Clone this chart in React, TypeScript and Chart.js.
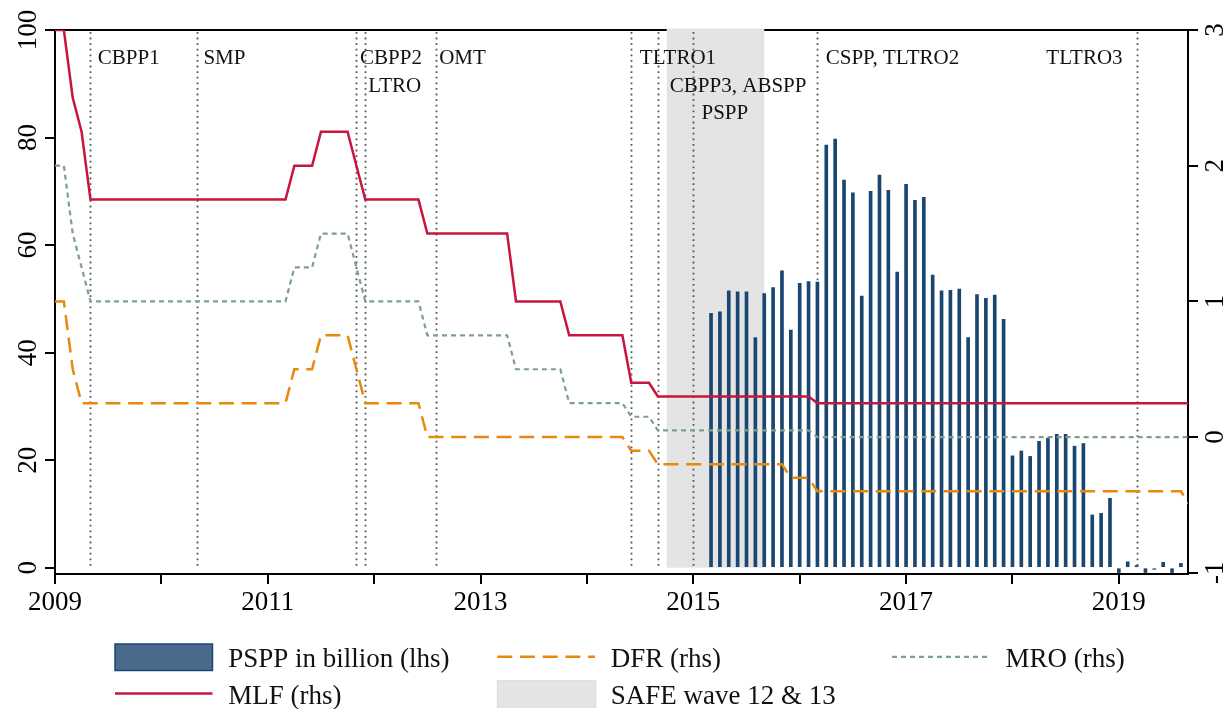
import React, { useEffect, useRef } from 'react';
import { Chart, registerables } from 'chart.js';

Chart.register(...registerables);

// ---------------- data ----------------
const START_YEAR = 2009; // monthly series start: January 2009

// Marginal lending facility rate (rhs), monthly from Jan 2009
const mlf = [
  3, 3, 2.5, 2.25, 1.75, 1.75, 1.75, 1.75, 1.75, 1.75, 1.75, 1.75,
  1.75, 1.75, 1.75, 1.75, 1.75, 1.75, 1.75, 1.75, 1.75, 1.75, 1.75, 1.75,
  1.75, 1.75, 1.75, 2, 2, 2, 2.25, 2.25, 2.25, 2.25, 2, 1.75,
  1.75, 1.75, 1.75, 1.75, 1.75, 1.75, 1.5, 1.5, 1.5, 1.5, 1.5, 1.5,
  1.5, 1.5, 1.5, 1.5, 1, 1, 1, 1, 1, 1, 0.75, 0.75,
  0.75, 0.75, 0.75, 0.75, 0.75, 0.4, 0.4, 0.4, 0.3, 0.3, 0.3, 0.3,
  0.3, 0.3, 0.3, 0.3, 0.3, 0.3, 0.3, 0.3, 0.3, 0.3, 0.3, 0.3,
  0.3, 0.3, 0.25, 0.25, 0.25, 0.25, 0.25, 0.25, 0.25, 0.25, 0.25, 0.25,
  0.25, 0.25, 0.25, 0.25, 0.25, 0.25, 0.25, 0.25, 0.25, 0.25, 0.25, 0.25,
  0.25, 0.25, 0.25, 0.25, 0.25, 0.25, 0.25, 0.25, 0.25, 0.25, 0.25, 0.25,
  0.25, 0.25, 0.25, 0.25, 0.25, 0.25, 0.25, 0.25, 0.25,
];

// Main refinancing operations rate (rhs)
const mro = [
  2, 2, 1.5, 1.25, 1, 1, 1, 1, 1, 1, 1, 1,
  1, 1, 1, 1, 1, 1, 1, 1, 1, 1, 1, 1,
  1, 1, 1, 1.25, 1.25, 1.25, 1.5, 1.5, 1.5, 1.5, 1.25, 1,
  1, 1, 1, 1, 1, 1, 0.75, 0.75, 0.75, 0.75, 0.75, 0.75,
  0.75, 0.75, 0.75, 0.75, 0.5, 0.5, 0.5, 0.5, 0.5, 0.5, 0.25, 0.25,
  0.25, 0.25, 0.25, 0.25, 0.25, 0.15, 0.15, 0.15, 0.05, 0.05, 0.05, 0.05,
  0.05, 0.05, 0.05, 0.05, 0.05, 0.05, 0.05, 0.05, 0.05, 0.05, 0.05, 0.05,
  0.05, 0.05, 0, 0, 0, 0, 0, 0, 0, 0, 0, 0,
  0, 0, 0, 0, 0, 0, 0, 0, 0, 0, 0, 0,
  0, 0, 0, 0, 0, 0, 0, 0, 0, 0, 0, 0,
  0, 0, 0, 0, 0, 0, 0, 0, 0,
];

// Deposit facility rate (rhs)
const dfr = [
  1, 1, 0.5, 0.25, 0.25, 0.25, 0.25, 0.25, 0.25, 0.25, 0.25, 0.25,
  0.25, 0.25, 0.25, 0.25, 0.25, 0.25, 0.25, 0.25, 0.25, 0.25, 0.25, 0.25,
  0.25, 0.25, 0.25, 0.5, 0.5, 0.5, 0.75, 0.75, 0.75, 0.75, 0.5, 0.25,
  0.25, 0.25, 0.25, 0.25, 0.25, 0.25, 0, 0, 0, 0, 0, 0,
  0, 0, 0, 0, 0, 0, 0, 0, 0, 0, 0, 0,
  0, 0, 0, 0, 0, -0.1, -0.1, -0.1, -0.2, -0.2, -0.2, -0.2,
  -0.2, -0.2, -0.2, -0.2, -0.2, -0.2, -0.2, -0.2, -0.2, -0.2, -0.2, -0.3,
  -0.3, -0.3, -0.4, -0.4, -0.4, -0.4, -0.4, -0.4, -0.4, -0.4, -0.4, -0.4,
  -0.4, -0.4, -0.4, -0.4, -0.4, -0.4, -0.4, -0.4, -0.4, -0.4, -0.4, -0.4,
  -0.4, -0.4, -0.4, -0.4, -0.4, -0.4, -0.4, -0.4, -0.4, -0.4, -0.4, -0.4,
  -0.4, -0.4, -0.4, -0.4, -0.4, -0.4, -0.4, -0.4, -0.5,
];

// PSPP net purchases in billion (lhs), monthly from March 2015
const PSPP_START = 2015 + 2 / 12;
const pspp = [
  47.3, 47.6, 51.5, 51.3, 51.3, 42.8, 51.0, 52.1, 55.2, 44.2,
  52.9, 53.2, 53.1, 78.6, 79.7, 72.1, 69.7, 50.5, 70.0, 73.0, 70.2, 55.0,
  71.3, 68.3, 68.9, 54.4, 51.5, 51.6, 51.8, 42.8, 50.8, 50.1, 50.7, 46.2,
  20.8, 21.7, 20.7, 23.5, 24.1, 24.8, 24.8, 22.6, 23.1, 9.8, 10.1, 12.9,
  -0.9, 1.1, 0.4, -0.9, -0.3, 1.0, -0.9, 0.8, 0.3,
];

const xTicks = [2009, 2010, 2011, 2012, 2013, 2014, 2015, 2016, 2017, 2018, 2019];
const xTickLabels = ['2009', '', '2011', '', '2013', '', '2015', '', '2017', '', '2019'];
const yLeftTicks = [0, 20, 40, 60, 80, 100];
const yRightTicks = [-1, 0, 1, 2, 3];

// SAFE survey waves 12 & 13: Oct 2014 – Sep 2015
const safeWave = [2014.75, 2015.6667];

// Policy event dates (vertical dotted lines)
const eventDates = [2009.3333, 2010.3333, 2011.8333, 2011.9167, 2012.5833, 2014.4167, 2014.6667, 2015.0, 2016.1667, 2019.1667];

// Event labels: text, date of the line it belongs to, text row
const eventText = ['CBPP1', 'SMP', 'CBPP2', 'LTRO', 'OMT', 'TLTRO1', 'CBPP3, ABSPP', 'PSPP', 'CSPP, TLTRO2', 'TLTRO3'];
const eventTextDate = [2009.3333, 2010.3333, 2011.8333, 2011.9167, 2012.5833, 2014.4167, 2014.6667, 2015.0, 2016.1667, 2019.1667];
const eventTextRow = [0, 0, 0, 1, 0, 0, 1, 2, 0, 0];

// ---------------- styles ----------------
const FONT = '"Liberation Serif", "Times New Roman", serif';
const C_BAR = '#1a476f';
const C_BAR_LEGEND = '#4a6b8c';
const C_MLF = '#c8153f';
const C_DFR = '#e8890c';
const C_MRO = '#7f9e92';
const C_SHADE = '#e4e4e4';
const DASH_DFR = [15, 7.7];
const DASH_MRO = [5, 4];
const labelOffsets = [7.4, 6.6, 3.6, 3.0, 3.0, 8.6, 12, 8.2, 8.3, -14];
const labelRowBaseline = [34, 61.5, 88.5];

const monthly = (arr: number[], start: number) => arr.map((v, i) => ({ x: start + i / 12, y: v }));

const annotationsPlugin = {
  id: 'annotations',
  beforeDatasetsDraw(chart: any) {
    const { ctx, chartArea, scales } = chart;
    const x = scales.x;
    const yl = scales.yLeft;
    ctx.save();
    // top frame line
    ctx.strokeStyle = '#000';
    ctx.lineWidth = 2;
    ctx.beginPath();
    ctx.moveTo(chartArea.left, chartArea.top);
    ctx.lineTo(chartArea.right, chartArea.top);
    ctx.stroke();

    // SAFE shading
    const sx0 = x.getPixelForValue(safeWave[0]);
    const sx1 = x.getPixelForValue(safeWave[1]);
    const sTop = yl.getPixelForValue(100) - 1.5;
    const sBot = yl.getPixelForValue(0);
    ctx.fillStyle = C_SHADE;
    ctx.fillRect(sx0, sTop, sx1 - sx0, sBot - sTop);

    // event lines
    ctx.strokeStyle = '#555';
    ctx.lineWidth = 1.8;
    ctx.setLineDash([1.8, 3.8]);
    eventDates.forEach((d) => {
      const px = Math.round(x.getPixelForValue(d)) + 0.5;
      ctx.beginPath();
      ctx.moveTo(px, yl.getPixelForValue(100) + 2);
      ctx.lineTo(px, yl.getPixelForValue(0));
      ctx.stroke();
    });
    ctx.setLineDash([]);

    // event labels
    ctx.fillStyle = '#111';
    ctx.font = `21px ${FONT}`;
    ctx.textBaseline = 'alphabetic';
    eventText.forEach((t, i) => {
      const off = labelOffsets[i];
      const px = x.getPixelForValue(eventTextDate[i]) + off;
      ctx.textAlign = off < 0 ? 'right' : 'left';
      ctx.fillText(t, px, chartArea.top + labelRowBaseline[eventTextRow[i]]);
    });
    ctx.restore();
  },
  afterDraw(chart: any) {
    const { ctx, scales } = chart;
    const yl = scales.yLeft;
    const yr = scales.yRight;
    ctx.save();
    ctx.fillStyle = '#000';
    ctx.font = `27px ${FONT}`;
    ctx.textAlign = 'center';
    ctx.textBaseline = 'alphabetic';
    yLeftTicks.forEach((v) => {
      ctx.save();
      ctx.translate(36, yl.getPixelForValue(v));
      ctx.rotate(-Math.PI / 2);
      ctx.fillText(String(v), 0, 0);
      ctx.restore();
    });
    yRightTicks.forEach((v) => {
      ctx.save();
      ctx.translate(1223, yr.getPixelForValue(v));
      ctx.rotate(-Math.PI / 2);
      ctx.fillText(String(v), 0, 0);
      ctx.restore();
    });

    // legend
    const ds = chart.data.datasets;
    ctx.textAlign = 'left';
    ctx.fillStyle = '#111';
    ctx.font = `27px ${FONT}`;
    const row1 = 656.8;
    const row2 = 693.5;
    // PSPP box
    ctx.fillStyle = C_BAR_LEGEND;
    ctx.fillRect(115, 644, 97.5, 26.5);
    ctx.strokeStyle = C_BAR;
    ctx.lineWidth = 1.5;
    ctx.strokeRect(115, 644, 97.5, 26.5);
    // MLF line
    ctx.strokeStyle = C_MLF;
    ctx.lineWidth = 2.5;
    ctx.beginPath();
    ctx.moveTo(115, row2);
    ctx.lineTo(212.5, row2);
    ctx.stroke();
    // DFR dashes
    ctx.strokeStyle = C_DFR;
    ctx.setLineDash(DASH_DFR);
    ctx.beginPath();
    ctx.moveTo(497.3, row1);
    ctx.lineTo(595, row1);
    ctx.stroke();
    // MRO dots
    ctx.strokeStyle = C_MRO;
    ctx.lineWidth = 2.2;
    ctx.setLineDash(DASH_MRO);
    ctx.beginPath();
    ctx.moveTo(892, row1);
    ctx.lineTo(990, row1);
    ctx.stroke();
    ctx.setLineDash([]);
    // SAFE box
    ctx.fillStyle = C_SHADE;
    ctx.fillRect(497.3, 680.7, 98.5, 26.5);
    ctx.strokeStyle = '#dadada';
    ctx.lineWidth = 1;
    ctx.strokeRect(497.3, 680.7, 98.5, 26.5);

    ctx.fillStyle = '#111';
    ctx.fillText(ds[0].label, 228.3, 666.7);
    ctx.fillText(ds[1].label, 228.3, 704);
    ctx.fillText(ds[2].label, 610.7, 666.7);
    ctx.fillText('SAFE wave 12 & 13', 610.7, 704);
    ctx.fillText(ds[3].label, 1005.6, 666.7);
    ctx.restore();
  },
};

export default function App() {
  const canvasRef = useRef<HTMLCanvasElement | null>(null);

  useEffect(() => {
    const canvas = canvasRef.current;
    if (!canvas) return;
    const axisGrid = {
      display: true,
      drawOnChartArea: false,
      drawTicks: true,
      tickLength: 10,
      tickWidth: 2,
      tickColor: '#000',
      color: '#000',
      lineWidth: 2,
      offset: false,
    };
    const chart = new Chart(canvas, {
      type: 'bar',
      data: {
        datasets: [
          {
            type: 'bar',
            label: 'PSPP in billion (lhs)',
            data: monthly(pspp, PSPP_START),
            xAxisID: 'x',
            yAxisID: 'yLeft',
            backgroundColor: C_BAR,
            borderWidth: 0,
            barThickness: 3,
            order: 4,
          } as any,
          {
            type: 'line',
            label: 'MLF (rhs)',
            data: monthly(mlf, START_YEAR),
            xAxisID: 'x',
            yAxisID: 'yRight',
            borderColor: C_MLF,
            borderWidth: 2.5,
            pointRadius: 0,
            tension: 0,
            fill: false,
            order: 1,
          },
          {
            type: 'line',
            label: 'DFR (rhs)',
            data: monthly(dfr, START_YEAR),
            xAxisID: 'x',
            yAxisID: 'yRight',
            borderColor: C_DFR,
            borderWidth: 2.5,
            borderDash: DASH_DFR,
            pointRadius: 0,
            tension: 0,
            fill: false,
            order: 2,
          },
          {
            type: 'line',
            label: 'MRO (rhs)',
            data: monthly(mro, START_YEAR),
            xAxisID: 'x',
            yAxisID: 'yRight',
            borderColor: C_MRO,
            borderWidth: 2.2,
            borderDash: DASH_MRO,
            pointRadius: 0,
            tension: 0,
            fill: false,
            order: 3,
          },
        ],
      },
      options: {
        responsive: false,
        animation: false,
        devicePixelRatio: 1,
        events: [],
        layout: { padding: { top: 30, left: 0, right: 0, bottom: 0 }, autoPadding: false },
        plugins: {
          legend: { display: false },
          tooltip: { enabled: false },
          title: { display: false },
        },
        scales: {
          x: {
            type: 'linear',
            position: 'bottom',
            min: 2009,
            max: 2019.65,
            offset: false,
            afterBuildTicks: (s: any) => {
              s.ticks = xTicks.map((v) => ({ value: v }));
            },
            afterFit: (s: any) => {
              s.height = 135;
            },
            ticks: {
              autoSkip: false,
              maxRotation: 0,
              minRotation: 0,
              padding: 3,
              color: '#000',
              font: { family: FONT, size: 27 },
              callback: (_v: any, i: number) => xTickLabels[i],
            },
            grid: axisGrid,
            border: { display: true, color: '#000', width: 2 },
          },
          yLeft: {
            type: 'linear',
            position: 'left',
            min: -1.17,
            max: 100,
            afterBuildTicks: (s: any) => {
              s.ticks = yLeftTicks.map((v) => ({ value: v }));
            },
            afterFit: (s: any) => {
              s.width = 55;
            },
            ticks: { display: false },
            grid: axisGrid,
            border: { display: true, color: '#000', width: 2 },
          },
          yRight: {
            type: 'linear',
            position: 'right',
            min: -1.009,
            max: 3,
            afterBuildTicks: (s: any) => {
              s.ticks = yRightTicks.map((v) => ({ value: v }));
            },
            afterFit: (s: any) => {
              s.width = 42;
            },
            ticks: { display: false },
            grid: axisGrid,
            border: { display: true, color: '#000', width: 2 },
          },
        },
      } as any,
      plugins: [annotationsPlugin],
    });
    return () => chart.destroy();
  }, []);

  return (
    <div style={{ position: 'absolute', left: 0, top: 0, width: 1230, height: 709, background: '#fff' }}>
      <canvas ref={canvasRef} width={1230} height={709} style={{ display: 'block' }} />
    </div>
  );
}
